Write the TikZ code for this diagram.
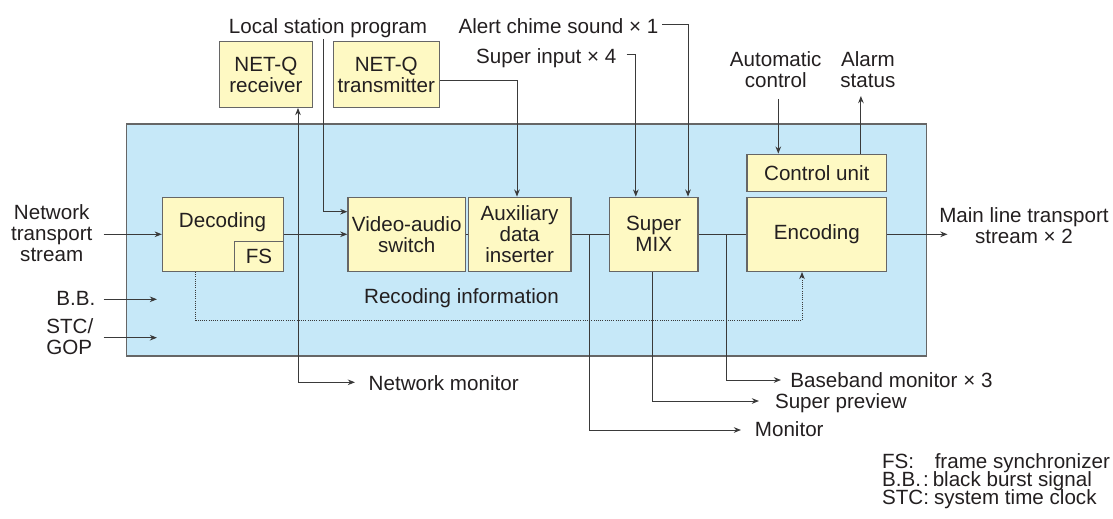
\documentclass[tikz,border=0pt]{standalone}
\usepackage{fontspec}
\setmainfont{Liberation Sans}
\usetikzlibrary{arrows.meta}
\definecolor{panel}{HTML}{C6E8F8}
\definecolor{unit}{HTML}{FEF9C3}
\definecolor{edge}{HTML}{666666}
\definecolor{ink}{HTML}{231F20}
\definecolor{wire}{HTML}{3A3A3A}
\begin{document}
\begin{tikzpicture}[x=0.5pt,y=-0.5pt,
  font=\fontsize{10.3}{10.5}\selectfont, text=ink,
  block/.style={draw=edge, line width=0.65pt, fill=unit, inner sep=0pt, align=center},
  lbl/.style={inner sep=0pt, align=center},
  wire/.style={draw=wire, line width=0.5pt},
  arr/.style={wire, -{Stealth[length=3.6pt,width=2.8pt]}},
  biarr/.style={wire, {Stealth[length=3.6pt,width=2.8pt]}-{Stealth[length=3.6pt,width=2.8pt]}},
  info/.style={wire, dash pattern=on 0.5pt off 0.6pt, -{Stealth[length=3.6pt,width=2.8pt]}}]
\path[use as bounding box] (0,0) rectangle (1113,519);

% main unit
\node[draw=edge, line width=0.65pt, fill=panel, minimum width=399.95pt, minimum height=116pt, inner sep=0pt] (unitbox) at (526.75,240) {};

% NET-Q boxes above the unit
\node[block, minimum width=46.6pt, minimum height=32.8pt] (recv) at (265.9,74.5) {NET-Q\\receiver};
\node[block, minimum width=53pt, minimum height=32.8pt] (trans) at (386.25,74.5) {NET-Q\\transmitter};

% processing chain
\node[block, minimum width=60.4pt, minimum height=37pt] (dec) at (222.9,234.3) {};
\node[lbl, anchor=base] (dect) at (222.5,227.5) {Decoding};
\node[block, minimum width=24.35pt, minimum height=14.9pt] (fs) at (258.95,256.4) {FS};
\node[block, minimum width=58.7pt, minimum height=37pt] (vas) at (406.7,234.3) {Video-audio\\switch};
\node[block, minimum width=51.4pt, minimum height=37pt] (aux) at (519.6,234.3) {Auxiliary\\data\\inserter};
\node[block, minimum width=44.3pt, minimum height=37pt] (mix) at (653.7,234.3) {Super\\MIX};
\node[block, minimum width=69.8pt, minimum height=37pt] (enc) at (816.8,234.3) {Encoding};
\node[block, minimum width=69.8pt, minimum height=18.7pt] (ctrl) at (816.8,173) {Control unit};
\node[lbl, anchor=base] (recinfo) at (461.5,303.5) {Recoding information};

% input labels
\node[lbl, anchor=base] (lsp) at (328,33.3) {Local station program};
\node[lbl, anchor=base east, inner xsep=1.8pt] (alert) at (662.4,33.3) {Alert chime sound × 1};
\node[lbl, anchor=base east, inner xsep=4.9pt] (supin) at (626.6,63.3) {Super input × 4};
\node[lbl] (autoc) at (775.7,69.5) {Automatic\\control};
\node[lbl] (alarm) at (867.9,69.5) {Alarm\\status};
\node[lbl] (nts) at (51.7,233.6) {Network\\transport\\stream};
\node[lbl, anchor=base east] (bb) at (95.7,305) {B.B.};
\node[lbl, anchor=west, align=left] (stc) at (46,336.3) {STC/\\GOP};
\node[lbl] (mlts) at (1024,225.4) {Main line transport\\stream × 2};

% output labels
\node[lbl, anchor=base west] (netmon) at (368.3,390) {Network monitor};
\node[lbl, anchor=base west] (bbmon) at (790,387) {Baseband monitor × 3};
\node[lbl, anchor=base west] (sprev) at (774.6,408.3) {Super preview};
\node[lbl, anchor=base west] (mon) at (754.5,436.7) {Monitor};

% legend
\node[lbl, anchor=base west] (leg1) at (881.7,468.3) {FS:\quad frame synchronizer};
\node[lbl, anchor=base west] (leg2) at (881.7,486.7) {B.B.\kern1pt:\kern2pt black burst signal};
\node[lbl, anchor=base west] (leg3) at (881.7,504.3) {STC:\kern2.5pt system time clock};

% connector end points
\coordinate (lspin) at (323,39);
\coordinate (ntsin) at (103.6,234.3);
\coordinate (bbin) at (103.6,299.3);
\coordinate (bbend) at (157,299.3);
\coordinate (stcin) at (103.6,337.7);
\coordinate (stcend) at (157,337.7);
\coordinate (autoin) at (778.3,99);
\coordinate (alarmout) at (860.9,96);
\coordinate (mlend) at (947.5,234.3);
\coordinate (nmend) at (355,382.3);
\coordinate (tapA) at (589.7,234.3);
\coordinate (tapB) at (726.4,234.3);
\coordinate (monend) at (741,430);
\coordinate (spend) at (759,401);
\coordinate (bbmend) at (781,380);

% inputs
\draw[arr] (ntsin) -- (dec.west);
\draw[arr] (bbin) -- (bbend);
\draw[arr] (stcin) -- (stcend);
\draw[arr] (lspin) |- (vas.west |- 0,211.7);
\draw[arr] (trans.east |- 0,80.7) -| (aux.north -| 517,0);
\draw[arr] (supin.east |- 0,55) -| (mix.north -| 635.8,0);
\draw[arr] (alert.east |- 0,25) -| (mix.north -| 688,0);
\draw[arr] (autoin) -- (ctrl.north -| autoin);
\draw[arr] (ctrl.north -| alarmout) -- (alarmout);

% main signal path
\draw[arr] (dec.east) -- (vas.west);
\draw[wire] (vas.east) -- (aux.west);
\draw[wire] (aux.east) -- (mix.west);
\draw[wire] (mix.east) -- (enc.west);
\draw[arr] (enc.east) -- (mlend);

% monitor outputs
\draw[biarr] (recv.south -| 298,0) |- (nmend);
\draw[arr] (tapA) |- (monend);
\draw[arr] (mix.south -| 652.6,0) |- (spend);
\draw[arr] (tapB) |- (bbmend);

% recoding information
\draw[info] (dec.south -| 195.7,0) |- (802,320.7) -- (enc.south -| 802,0);
\end{tikzpicture}
\end{document}
